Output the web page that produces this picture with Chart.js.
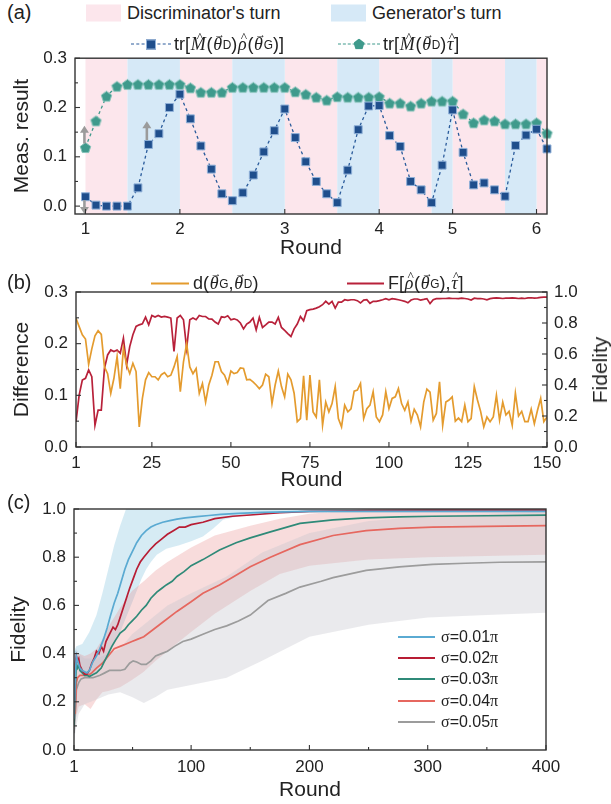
<!DOCTYPE html>
<html lang="en">
<head>
<meta charset="UTF-8">
<title>Adversarial learning rounds</title>
<script src="https://cdn.jsdelivr.net/npm/chart.js"></script>
<style>
  body { margin: 0; background: #fff; font-family: "Liberation Sans", Arial, sans-serif; color: #222; }
  #page { position: relative; width: 611px; height: 804px; overflow: hidden; }
  canvas { position: absolute; left: 0; }
  .tag { position: absolute; left: 7px; font-size: 20px; }
  .leg { position: absolute; display: flex; align-items: center; font-size: 18px; white-space: nowrap; transform: translateY(-50%); }
  .box { display: inline-block; width: 35px; height: 17px; margin-right: 6px; }
  .dash { position: relative; display: inline-block; border-top: 1.5px dashed; margin-right: 3px; }
  .solid { display: inline-block; height: 2px; margin-right: 4px; }
  .sq { position: absolute; left: 50%; top: -5px; width: 8px; height: 8px; margin-left: -5px; background: #1f4e8c; border: 1px solid #8fb0d8; }
  .pent { position: absolute; left: 50%; top: -6px; width: 11px; height: 11px; margin-left: -5.5px; background: #3f9a8c;
          clip-path: polygon(50% 0, 100% 38%, 81% 100%, 19% 100%, 0 38%); }
  .mi { font-family: "Liberation Serif", "DejaVu Serif", serif; font-style: italic; position: relative; display: inline-block; padding: 0 0.04em; }
  .gr { font-family: "Liberation Serif", "DejaVu Serif", serif; }
  .vec::after, .hat::after { position: absolute; left: 0.12em; right: -0.12em; text-align: center; font-style: normal; }
  .vec::after { content: "\2192"; top: -0.52em; font-size: 0.62em; }
  .hat::after { content: "^"; top: -0.34em; font-size: 0.75em; }
  sub { font-size: 0.66em; vertical-align: -0.28em; }
  .rt { position: absolute; font-size: 21px; transform: translate(-50%, -50%) rotate(-90deg); }
  #legC { position: absolute; left: 398px; top: 626px; font-size: 16px; }
  #legC div { display: flex; align-items: center; height: 21.4px; }
  #legC span.ln { display: inline-block; width: 37px; height: 2px; margin-right: 6px; }
</style>
</head>
<body>
<div id="page">
  <canvas id="cA" width="611" height="225" style="top:40px"></canvas>
  <canvas id="cB" width="611" height="225" style="top:270px"></canvas>
  <canvas id="cC" width="611" height="314" style="top:490px"></canvas>

  <div class="tag" style="top:1px">(a)</div>
  <div class="leg" style="left:86px; top:13px"><span class="box" style="background:#fce6ec"></span>Discriminator's turn</div>
  <div class="leg" style="left:331px; top:13px"><span class="box" style="background:#d6e9f7"></span>Generator's turn</div>
  <div class="leg" style="left:131px; top:44px">
    <span class="dash" style="width:40px; color:#2a5b9b"><span class="sq"></span></span>tr[<span class="mi hat">M</span>(<span class="mi vec">θ</span><sub>D</sub>)<span class="mi hat">ρ</span>(<span class="mi vec">θ</span><sub>G</sub>)]
  </div>
  <div class="leg" style="left:338px; top:44px">
    <span class="dash" style="width:42px; color:#3f9a8c"><span class="pent"></span></span>tr[<span class="mi hat">M</span>(<span class="mi vec">θ</span><sub>D</sub>)<span class="mi hat">τ</span>]
  </div>

  <div class="tag" style="top:271px">(b)</div>
  <div class="leg" style="left:151px; top:283px">
    <span class="solid" style="width:38px; background:#e49b2e"></span>d(<span class="mi vec">θ</span><sub>G</sub>, <span class="mi vec">θ</span><sub>D</sub>)
  </div>
  <div class="leg" style="left:347px; top:283px">
    <span class="solid" style="width:37px; background:#b8213a"></span>F[<span class="mi hat">ρ</span>(<span class="mi vec">θ</span><sub>G</sub>), <span class="mi hat">τ</span>]
  </div>
  <div class="rt" style="left:600px; top:370px">Fidelity</div>

  <div class="tag" style="top:491px">(c)</div>
  <div id="legC"></div>
</div>

<script>
// ---------- panel (a): measurement results per step ----------
const roundStart = [0, 9, 19, 28, 35, 43];
const roundLabels = ['1', '2', '3', '4', '5', '6'];
const discTurns = [[0, 4], [9, 14], [19, 24], [28, 33], [35, 40], [43, 44]];
const genTurns = [[4, 9], [14, 19], [24, 28], [33, 35], [40, 43]];
const measTicks = [0, 0.1, 0.2, 0.3];

const measModel = [0.019, 0.002, 0, 0, 0, 0.037, 0.125, 0.147, 0.200, 0.227,
                   0.177, 0.122, 0.075, 0.025, 0.011, 0.027, 0.063, 0.110, 0.153, 0.197,
                   0.139, 0.090, 0.050, 0.025, 0.007, 0.073, 0.155, 0.203, 0.204, 0.143,
                   0.121, 0.050, 0.033, 0.007, 0.083, 0.195, 0.109, 0.043, 0.047, 0.033,
                   0.020, 0.123, 0.144, 0.156, 0.116];
const measTarget = [0.119, 0.173, 0.223, 0.243, 0.247, 0.247, 0.247, 0.247, 0.247, 0.247,
                    0.240, 0.231, 0.231, 0.231, 0.241, 0.241, 0.241, 0.241, 0.241, 0.241,
                    0.232, 0.227, 0.221, 0.215, 0.222, 0.221, 0.221, 0.221, 0.222, 0.209,
                    0.209, 0.203, 0.209, 0.213, 0.213, 0.213, 0.187, 0.169, 0.175, 0.173,
                    0.167, 0.167, 0.167, 0.169, 0.148];
// grey arrows: step, from, to
const arrowNotes = [[-0.1, 0.127, 0.163], [-0.1, 0.012, -0.016], [5.85, 0.134, 0.172]];

// ---------- panel (b): difference and fidelity over 150 rounds ----------
const diffTicks = [0, 0.1, 0.2, 0.3];
const fidTicks = [0, 0.2, 0.4, 0.6, 0.8, 1.0];
const roundTicksB = [1, 25, 50, 75, 100, 125, 150];
const paramDiff = [0.249, 0.233, 0.217, 0.209, 0.160, 0.190, 0.215, 0.225, 0.218, 0.155,
                   0.142, 0.104, 0.133, 0.175, 0.113, 0.191, 0.159, 0.142, 0.162, 0.146,
                   0.039, 0.094, 0.130, 0.144, 0.136, 0.136, 0.130, 0.140, 0.144, 0.136,
                   0.139, 0.155, 0.175, 0.107, 0.165, 0.200, 0.155, 0.142, 0.152, 0.104,
                   0.123, 0.087, 0.120, 0.139, 0.165, 0.165, 0.146, 0.139, 0.123, 0.147,
                   0.142, 0.144, 0.153, 0.152, 0.130, 0.131, 0.126, 0.120, 0.113, 0.120,
                   0.141, 0.136, 0.084, 0.120, 0.147, 0.117, 0.097, 0.141, 0.130, 0.104,
                   0.049, 0.055, 0.138, 0.052, 0.139, 0.068, 0.058, 0.130, 0.042, 0.087,
                   0.068, 0.084, 0.117, 0.055, 0.039, 0.081, 0.068, 0.074, 0.108, 0.110,
                   0.123, 0.055, 0.074, 0.081, 0.107, 0.058, 0.049, 0.062, 0.107, 0.074,
                   0.094, 0.097, 0.113, 0.084, 0.071, 0.087, 0.050, 0.073, 0.062, 0.039,
                   0.087, 0.112, 0.106, 0.052, 0.065, 0.126, 0.042, 0.087, 0.091, 0.097,
                   0.050, 0.056, 0.049, 0.081, 0.049, 0.055, 0.117, 0.091, 0.069, 0.039,
                   0.058, 0.049, 0.058, 0.100, 0.052, 0.087, 0.062, 0.069, 0.042, 0.104,
                   0.060, 0.069, 0.049, 0.049, 0.073, 0.045, 0.071, 0.094, 0.049, 0.058];
const stateFid = [0.162, 0.335, 0.432, 0.443, 0.497, 0.454, 0.140, 0.238, 0.238, 0.508,
                  0.594, 0.626, 0.616, 0.626, 0.605, 0.702, 0.529, 0.648, 0.724, 0.778,
                  0.788, 0.795, 0.838, 0.788, 0.849, 0.838, 0.849, 0.838, 0.842, 0.838,
                  0.832, 0.616, 0.832, 0.849, 0.821, 0.637, 0.821, 0.832, 0.821, 0.849,
                  0.842, 0.842, 0.827, 0.825, 0.806, 0.793, 0.840, 0.836, 0.847, 0.821,
                  0.827, 0.820, 0.800, 0.762, 0.793, 0.806, 0.832, 0.756, 0.836, 0.771,
                  0.788, 0.806, 0.806, 0.793, 0.836, 0.771, 0.752, 0.732, 0.713, 0.762,
                  0.793, 0.842, 0.814, 0.879, 0.886, 0.890, 0.896, 0.905, 0.918, 0.940,
                  0.922, 0.940, 0.896, 0.935, 0.935, 0.950, 0.946, 0.950, 0.950, 0.944,
                  0.929, 0.948, 0.950, 0.927, 0.940, 0.940, 0.944, 0.950, 0.957, 0.950,
                  0.957, 0.954, 0.950, 0.945, 0.940, 0.930, 0.948, 0.955, 0.955, 0.948,
                  0.952, 0.957, 0.925, 0.950, 0.957, 0.957, 0.958, 0.958, 0.960, 0.958,
                  0.958, 0.957, 0.960, 0.958, 0.955, 0.948, 0.960, 0.957, 0.958, 0.955,
                  0.950, 0.957, 0.960, 0.962, 0.960, 0.958, 0.960, 0.960, 0.962, 0.960,
                  0.958, 0.960, 0.958, 0.962, 0.963, 0.960, 0.962, 0.965, 0.967, 0.967];

// ---------- panel (c): mean fidelity for five noise levels ----------
const roundTicksC = [1, 100, 200, 300, 400];
const sigmaLabels = ['0.01', '0.02', '0.03', '0.04', '0.05'];
const s1Rounds = [1, 2, 3, 4, 6, 8, 10, 12, 14, 17, 20, 23, 26, 29, 32, 35, 38, 41, 44, 47, 50, 54, 58, 62, 66, 70, 76, 82, 88, 95, 105, 115, 125, 140, 160, 200, 250, 300, 400];
const s1Fid    = [0.13, 0.30, 0.39, 0.37, 0.34, 0.33, 0.325, 0.32, 0.33, 0.367, 0.39, 0.422, 0.46, 0.506, 0.56, 0.61, 0.65, 0.70, 0.75, 0.79, 0.82, 0.86, 0.89, 0.91, 0.925, 0.935, 0.945, 0.952, 0.958, 0.963, 0.968, 0.973, 0.978, 0.982, 0.986, 0.99, 0.99, 0.99, 0.99];
const s2Rounds = [1, 2, 3, 4, 5, 6, 8, 10, 12, 14, 16, 18, 20, 22, 24, 26, 28, 30, 32, 34, 36, 38, 40, 42, 44, 46, 48, 51, 54, 57, 60, 65, 70, 75, 80, 85, 90, 95, 100, 110, 120, 135, 150, 175, 200, 250, 300, 400];
const s2Fid    = [0.14, 0.36, 0.39, 0.37, 0.38, 0.35, 0.33, 0.315, 0.315, 0.33, 0.36, 0.38, 0.41, 0.40, 0.43, 0.41, 0.45, 0.47, 0.49, 0.51, 0.50, 0.52, 0.55, 0.58, 0.61, 0.64, 0.67, 0.71, 0.75, 0.78, 0.80, 0.83, 0.855, 0.875, 0.895, 0.91, 0.925, 0.925, 0.935, 0.945, 0.96, 0.97, 0.975, 0.985, 0.99, 0.993, 0.995, 0.995];
const s3Rounds = [1, 2, 3, 4, 5, 6, 8, 10, 12, 14, 16, 18, 20, 22, 24, 26, 28, 30, 33, 36, 40, 44, 47, 50, 54, 58, 62, 66, 71, 75, 79, 84, 88, 94, 100, 110, 124, 138, 150, 167, 192, 220, 248, 276, 304, 350, 400];
const s3Fid    = [0.10, 0.25, 0.36, 0.34, 0.35, 0.33, 0.32, 0.31, 0.31, 0.305, 0.31, 0.315, 0.32, 0.33, 0.34, 0.36, 0.38, 0.40, 0.43, 0.455, 0.485, 0.50, 0.52, 0.535, 0.555, 0.58, 0.60, 0.63, 0.655, 0.67, 0.685, 0.70, 0.72, 0.74, 0.765, 0.79, 0.83, 0.86, 0.88, 0.905, 0.94, 0.955, 0.963, 0.967, 0.97, 0.972, 0.975];
const s4Rounds = [1, 2, 3, 4, 6, 8, 10, 13, 16, 20, 25, 30, 35, 40, 45, 50, 55, 60, 68, 76, 88, 100, 110, 124, 138, 150, 167, 192, 220, 248, 276, 304, 350, 400];
const s4Fid    = [0.20, 0.15, 0.28, 0.30, 0.31, 0.31, 0.31, 0.31, 0.32, 0.34, 0.36, 0.39, 0.42, 0.43, 0.44, 0.45, 0.46, 0.47, 0.50, 0.53, 0.575, 0.615, 0.65, 0.685, 0.725, 0.76, 0.80, 0.852, 0.89, 0.91, 0.92, 0.925, 0.928, 0.931];
const s5Rounds = [1, 2, 3, 5, 7, 10, 13, 17, 20, 23, 27, 31, 35, 40, 44, 48, 51, 54, 58, 62, 66, 70, 75, 80, 86, 93, 100, 110, 120, 130, 140, 150, 165, 180, 192, 210, 220, 248, 276, 304, 332, 361, 400];
const s5Fid    = [0.07, 0.15, 0.25, 0.28, 0.295, 0.30, 0.30, 0.30, 0.305, 0.31, 0.32, 0.33, 0.33, 0.33, 0.335, 0.36, 0.37, 0.365, 0.355, 0.355, 0.37, 0.39, 0.40, 0.41, 0.43, 0.45, 0.46, 0.48, 0.50, 0.515, 0.535, 0.56, 0.62, 0.65, 0.676, 0.70, 0.715, 0.745, 0.76, 0.77, 0.775, 0.779, 0.781];

// spread bands (lower / upper edge)
const b1Rounds = [1, 3, 8, 14, 20, 25, 30, 35, 40, 45, 50, 54, 58, 62, 66, 71, 79, 90, 100, 110, 119, 127, 140, 160, 200, 300, 400];
const b1Lo     = [0.30, 0.37, 0.32, 0.30, 0.33, 0.36, 0.40, 0.44, 0.49, 0.55, 0.61, 0.66, 0.71, 0.75, 0.78, 0.81, 0.835, 0.85, 0.866, 0.886, 0.92, 0.955, 0.97, 0.978, 0.985, 0.985, 0.985];
const b1Hi     = [0.41, 0.43, 0.44, 0.49, 0.56, 0.65, 0.75, 0.85, 0.93, 1.00, 1.02, 1.02, 1.02, 1.02, 1.02, 1.02, 1.02, 1.02, 1.02, 1.02, 1.02, 1.02, 1.02, 1.02, 1.02, 1.02, 1.02];
const b4Rounds = [1, 5, 10, 15, 20, 25, 30, 40, 50, 60, 70, 80, 90, 100, 120, 150, 175, 200, 250, 300, 400];
const b4Lo     = [0.10, 0.18, 0.19, 0.17, 0.21, 0.24, 0.245, 0.26, 0.29, 0.325, 0.37, 0.41, 0.45, 0.49, 0.565, 0.66, 0.73, 0.765, 0.79, 0.80, 0.81];
const b4Hi     = [0.40, 0.40, 0.39, 0.40, 0.42, 0.46, 0.51, 0.59, 0.66, 0.70, 0.745, 0.78, 0.81, 0.84, 0.89, 0.93, 0.96, 0.98, 1.00, 1.02, 1.05];
const b5Rounds = [1, 3, 5, 10, 20, 30, 40, 50, 60, 70, 80, 100, 130, 160, 200, 250, 300, 350, 400];
const b5Lo     = [0.04, 0.10, 0.15, 0.19, 0.21, 0.23, 0.24, 0.22, 0.195, 0.22, 0.25, 0.27, 0.30, 0.37, 0.47, 0.52, 0.55, 0.56, 0.57];
const b5Hi     = [0.38, 0.42, 0.40, 0.38, 0.38, 0.40, 0.42, 0.48, 0.52, 0.56, 0.60, 0.65, 0.72, 0.82, 0.90, 0.95, 0.97, 0.98, 0.99];

// ---------- shared bits ----------
Chart.defaults.font.family = "'Liberation Sans', Arial, sans-serif";
Chart.defaults.color = '#222';
const TICK_FONT = { size: 17 };
const TITLE_FONT = { size: 21 };

const xy = (xs, ys) => ys.map((v, i) => ({ x: xs[i], y: v }));
const byIndex = (ys, start) => ys.map((v, i) => ({ x: i + start, y: v }));
const fixTicks = list => (s => { s.ticks = list.map(v => ({ value: v })); });

// box around the plot plus inward ticks (major, optional minor halfway)
const frameTicks = {
  id: 'frameTicks',
  afterDraw(chart, args, opts) {
    const { ctx, chartArea: a } = chart;
    ctx.save();
    ctx.strokeStyle = '#333';
    ctx.lineWidth = 1.4;
    ctx.strokeRect(a.left, a.top, a.right - a.left, a.bottom - a.top);
    ctx.lineWidth = 1.1;
    Object.values(chart.scales).forEach(s => {
      const vals = s.ticks.map(t => t.value);
      const marks = vals.map(v => [v, 5]);
      if ((opts.minor || []).includes(s.id)) {
        for (let i = 0; i < vals.length - 1; i++) marks.push([(vals[i] + vals[i + 1]) / 2, 3]);
      }
      marks.forEach(([v, len]) => {
        const p = s.getPixelForValue(v);
        ctx.beginPath();
        if (s.isHorizontal()) { ctx.moveTo(p, a.bottom); ctx.lineTo(p, a.bottom - len); }
        else if (s.position === 'right') { ctx.moveTo(a.right, p); ctx.lineTo(a.right - len, p); }
        else { ctx.moveTo(a.left, p); ctx.lineTo(a.left + len, p); }
        ctx.stroke();
      });
    });
    ctx.restore();
  }
};

function axis(extra) {
  return Object.assign({
    type: 'linear',
    grid: { display: false, drawTicks: false },
    border: { display: false },
  }, extra);
}

// ---------- chart (a) ----------
const turnShading = {
  id: 'turnShading',
  beforeDatasetsDraw(chart) {
    const { ctx, chartArea: a, scales: { x } } = chart;
    ctx.save();
    const paint = (spans, color) => {
      ctx.fillStyle = color;
      spans.forEach(([s, e]) => {
        const x0 = x.getPixelForValue(s), x1 = x.getPixelForValue(e);
        ctx.fillRect(x0, a.top, x1 - x0, a.bottom - a.top);
      });
    };
    paint(discTurns, '#fce6ec');
    paint(genTurns, '#d6e9f7');
    ctx.restore();
  }
};

const arrows = {
  id: 'arrows',
  afterDatasetsDraw(chart) {
    const { ctx, scales: { x, y } } = chart;
    ctx.save();
    ctx.strokeStyle = ctx.fillStyle = '#9b9b9b';
    ctx.lineWidth = 2.6;
    arrowNotes.forEach(([sx, from, to]) => {
      const px = x.getPixelForValue(sx), y0 = y.getPixelForValue(from), y1 = y.getPixelForValue(to);
      const dir = y1 < y0 ? 1 : -1;
      ctx.beginPath(); ctx.moveTo(px, y0); ctx.lineTo(px, y1 + dir * 6); ctx.stroke();
      ctx.beginPath(); ctx.moveTo(px - 4.5, y1 + dir * 7); ctx.lineTo(px + 4.5, y1 + dir * 7); ctx.lineTo(px, y1); ctx.closePath(); ctx.fill();
    });
    ctx.restore();
  }
};

function pentagon(size, fill, stroke) {
  const c = document.createElement('canvas');
  c.width = c.height = size;
  const g = c.getContext('2d');
  const r = size / 2 - 1, cx = size / 2, cy = size / 2 + 0.6;
  g.beginPath();
  for (let k = 0; k < 5; k++) {
    const ang = -Math.PI / 2 + k * 2 * Math.PI / 5;
    g.lineTo(cx + r * Math.cos(ang), cy + r * Math.sin(ang));
  }
  g.closePath();
  g.fillStyle = fill; g.fill();
  g.strokeStyle = stroke; g.lineWidth = 1; g.stroke();
  return c;
}

new Chart(document.getElementById('cA'), {
  type: 'line',
  data: {
    datasets: [
      { data: byIndex(measModel, 0), borderColor: '#2a5b9b', borderWidth: 1.3, borderDash: [3, 3],
        pointStyle: 'rect', pointRadius: 5.6, pointBackgroundColor: '#1f4e8c', pointBorderColor: '#8fb0d8',
        pointBorderWidth: 1, clip: false },
      { data: byIndex(measTarget, 0), borderColor: '#3f9a8c', borderWidth: 1.3, borderDash: [3, 3],
        pointStyle: pentagon(13, '#3f9a8c', '#86c3b9'), pointRadius: 6, clip: false }
    ]
  },
  options: {
    responsive: false, animation: false, devicePixelRatio: 1,
    layout: { padding: { top: 16, right: 64, left: 0, bottom: 0 } },
    plugins: { legend: { display: false }, tooltip: { enabled: false }, frameTicks: { minor: ['y'] } },
    scales: {
      x: axis({ min: -1, max: 44, afterBuildTicks: fixTicks(roundStart),
        ticks: { callback: v => roundLabels[roundStart.indexOf(v)], font: TICK_FONT, padding: 5, autoSkip: false, maxRotation: 0 },
        title: { display: true, text: 'Round', font: TITLE_FONT, padding: { top: 0, bottom: 4 } },
        afterFit: s => { s.height = 51; } }),
      y: axis({ min: -0.016, max: 0.3, afterBuildTicks: fixTicks(measTicks),
        ticks: { callback: v => v.toFixed(1), font: TICK_FONT, padding: 8 },
        title: { display: true, text: 'Meas. result', font: TITLE_FONT, padding: { top: 10, bottom: 0 } },
        afterFit: s => { s.width = 75; } })
    }
  },
  plugins: [turnShading, arrows, frameTicks]
});

// ---------- chart (b) ----------
new Chart(document.getElementById('cB'), {
  type: 'line',
  data: {
    datasets: [
      { data: byIndex(paramDiff, 1), yAxisID: 'y', borderColor: '#e49b2e', borderWidth: 1.7, pointRadius: 0 },
      { data: byIndex(stateFid, 1), yAxisID: 'y2', borderColor: '#b8213a', borderWidth: 1.7, pointRadius: 0 }
    ]
  },
  options: {
    responsive: false, animation: false, devicePixelRatio: 1,
    layout: { padding: { top: 22, right: 0, left: 0, bottom: 0 } },
    plugins: { legend: { display: false }, tooltip: { enabled: false }, frameTicks: { minor: ['y', 'y2'] } },
    scales: {
      x: axis({ min: 1, max: 150, afterBuildTicks: fixTicks(roundTicksB),
        ticks: { font: TICK_FONT, padding: 6, autoSkip: false, maxRotation: 0 },
        title: { display: true, text: 'Round', font: TITLE_FONT, padding: { top: 0, bottom: 2 } },
        afterFit: s => { s.height = 48; } }),
      y: axis({ position: 'left', min: 0, max: 0.3, afterBuildTicks: fixTicks(diffTicks),
        ticks: { callback: v => v.toFixed(1), font: TICK_FONT, padding: 8 },
        title: { display: true, text: 'Difference', font: TITLE_FONT, padding: { top: 10, bottom: 0 } },
        afterFit: s => { s.width = 76; } }),
      y2: axis({ position: 'right', min: 0, max: 1.0, afterBuildTicks: fixTicks(fidTicks),
        ticks: { callback: v => v.toFixed(1), font: TICK_FONT, padding: 7 },
        afterFit: s => { s.width = 64; } })
    }
  },
  plugins: [frameTicks]
});

// ---------- chart (c) ----------
const lineColors = ['#5aaad2', '#b81d34', '#2f8a78', '#e6675f', '#9c9c9c'];
const meanSets = [[s1Rounds, s1Fid], [s2Rounds, s2Fid], [s3Rounds, s3Fid], [s4Rounds, s4Fid], [s5Rounds, s5Fid]];
const bandSets = [
  [b5Rounds, b5Lo, b5Hi, 'rgba(196, 196, 204, 0.36)'],
  [b4Rounds, b4Lo, b4Hi, 'rgba(232, 140, 140, 0.30)'],
  [b1Rounds, b1Lo, b1Hi, 'rgba(120, 190, 220, 0.30)']
];
const dsC = meanSets.map(([xs, ys], i) => ({
  data: xy(xs, ys), borderColor: lineColors[i], borderWidth: 1.7, pointRadius: 0, fill: false
}));
bandSets.forEach(([xs, lo, hi, col]) => {
  dsC.push({ data: xy(xs, lo), borderWidth: 0, pointRadius: 0, fill: false });
  dsC.push({ data: xy(xs, hi), borderWidth: 0, pointRadius: 0, fill: '-1', backgroundColor: col });
});

new Chart(document.getElementById('cC'), {
  type: 'line',
  data: { datasets: dsC },
  options: {
    responsive: false, animation: false, devicePixelRatio: 1,
    layout: { padding: { top: 19, right: 65, left: 0, bottom: 0 } },
    plugins: { legend: { display: false }, tooltip: { enabled: false }, frameTicks: { minor: ['x', 'y'] } },
    scales: {
      x: axis({ min: 1, max: 400, afterBuildTicks: fixTicks(roundTicksC),
        ticks: { font: TICK_FONT, padding: 7, autoSkip: false, maxRotation: 0 },
        title: { display: true, text: 'Round', font: TITLE_FONT, padding: { top: 0, bottom: 1 } },
        afterFit: s => { s.height = 54; } }),
      y: axis({ min: 0, max: 1.0, afterBuildTicks: fixTicks(fidTicks),
        ticks: { callback: v => v.toFixed(1), font: TICK_FONT, padding: 8 },
        title: { display: true, text: 'Fidelity', font: TITLE_FONT, padding: { top: 7, bottom: 0 } },
        afterFit: s => { s.width = 74; } })
    }
  },
  plugins: [frameTicks]
});

// legend for (c)
document.getElementById('legC').innerHTML = sigmaLabels.map((s, i) =>
  `<div><span class="ln" style="background:${lineColors[i]}"></span><span class="gr">σ</span>=${s}<span class="gr">π</span></div>`
).join('');
</script>
</body>
</html>
